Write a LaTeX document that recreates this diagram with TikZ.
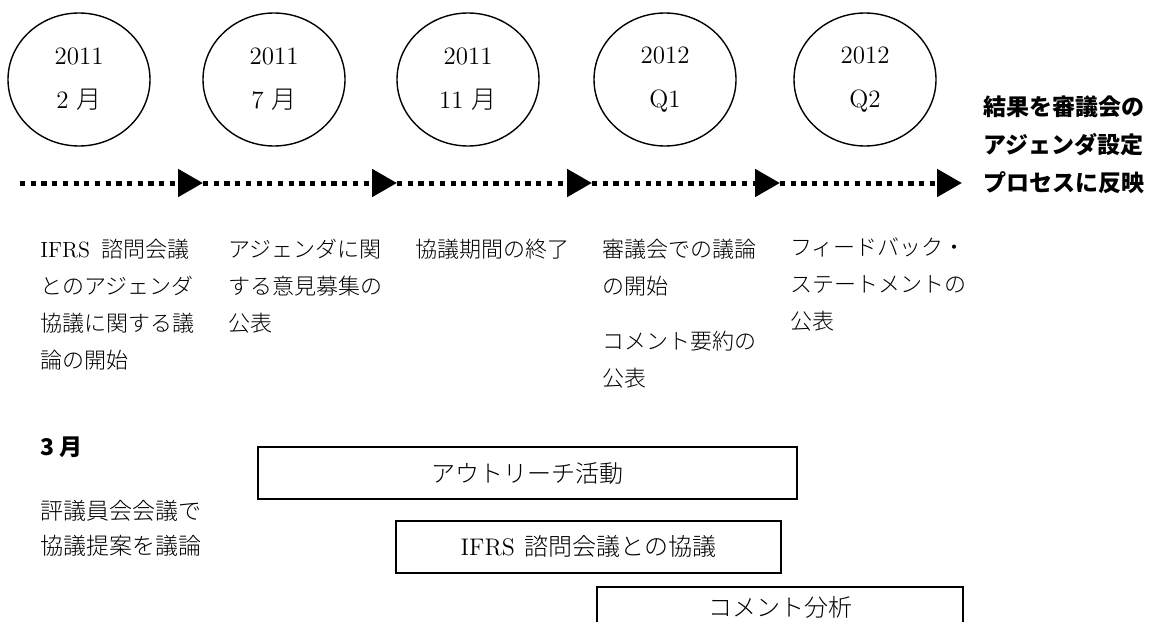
\documentclass[tikz,border=0pt]{standalone}
\usepackage{fontspec}
\IfFontExistsTF{Noto Sans CJK JP Light}
  {\newfontfamily\jp{Noto Sans CJK JP Light}}
  {\newfontfamily\jp{Noto Sans CJK JP}}
\newfontfamily\jpgo{Noto Sans CJK JP}
\usetikzlibrary{shapes.geometric,arrows.meta}
\newcommand{\lat}[1]{{\rmfamily #1}}
\tikzset{
    datebub/.style={draw, ellipse, line width=0.7pt, minimum width=71pt,
        minimum height=66.5pt, inner sep=0pt, align=center,
        font=\fontsize{12.5}{22}\selectfont},
    notetext/.style={anchor=north west, inner sep=0pt, align=left,
        font=\fontsize{11}{18.5}\selectfont\jp},
    resulttext/.style={anchor=north west, inner sep=0pt, align=left,
        font=\fontsize{11.5}{19}\selectfont\jpgo\bfseries},
    actbox/.style={draw, line width=1pt, minimum height=26pt, inner sep=0pt,
        font=\fontsize{12}{14}\selectfont\jp},
    timeline/.style={line width=2.5pt, dash pattern=on 2.6pt off 2.75pt,
        -{Triangle[length=12.5pt,width=13.5pt]}}
}
\begin{document}
\begin{tikzpicture}[x=0.5pt,y=-0.5pt]
    \useasboundingbox (0,0) rectangle (1155,621);
    \clip (0,0) rectangle (1155,621);

    % milestones
    \node[datebub] (feb) at (79,79.5) {2011\\2 {\jp 月}};
    \node[datebub] (jul) at (274,79.5) {2011\\7 {\jp 月}};
    \node[datebub] (nov) at (468,79.5) {2011\\11 {\jp 月}};
    \node[datebub] (qone) at (665,79.5) {2012\\Q1};
    \node[datebub] (qtwo) at (865,79.5) {2012\\Q2};

    % dotted time line
    \coordinate (t0) at (20,183);
    \coordinate (t1) at (203,183);
    \coordinate (t2) at (397,183);
    \coordinate (t3) at (592,183);
    \coordinate (t4) at (780,183);
    \coordinate (t5) at (962,183);
    \draw[timeline] (t0) -- (t1);
    \draw[timeline] (t1) -- (t2);
    \draw[timeline] (t2) -- (t3);
    \draw[timeline] (t3) -- (t4);
    \draw[timeline] (t4) -- (t5);

    \node[resulttext] (result) at (983,95) {結果を審議会の\\アジェンダ設定\\プロセスに反映};

    % steps under the line
    \node[notetext] (advice) at (40,239) {\lat{IFRS}\hspace{0.5em}諮問会議\\とのアジェンダ\\協議に関する議\\論の開始};
    \node[notetext] (request) at (228,239) {アジェンダに関\\する意見募集の\\公表};
    \node[notetext] (close) at (415,239) {協議期間の終了};
    \node[notetext] (board) at (602,239) {審議会での議論\\の開始\\[9pt]コメント要約の\\公表};
    \node[notetext] (feedback) at (790,237) {フィードバック・\\ステートメントの\\公表};

    % trustees
    \node[resulttext] (march) at (40,436) {3 月};
    \node[notetext, font=\fontsize{11.5}{17.5}\selectfont\jp] (council) at (40,500) {評議員会会議で\\協議提案を議論};

    % activity bars
    \node[actbox, minimum width=269.5pt] (outreach) at (527.5,473) {アウトリーチ活動};
    \node[actbox, minimum width=192.5pt] (consult) at (588.5,546.5) {\lat{IFRS}\hspace{0.4em}諮問会議との協議};
    \node[actbox, minimum width=183pt, text height=9pt, text depth=6pt] (analysis) at (780,613) {コメント分析};
\end{tikzpicture}
\end{document}
